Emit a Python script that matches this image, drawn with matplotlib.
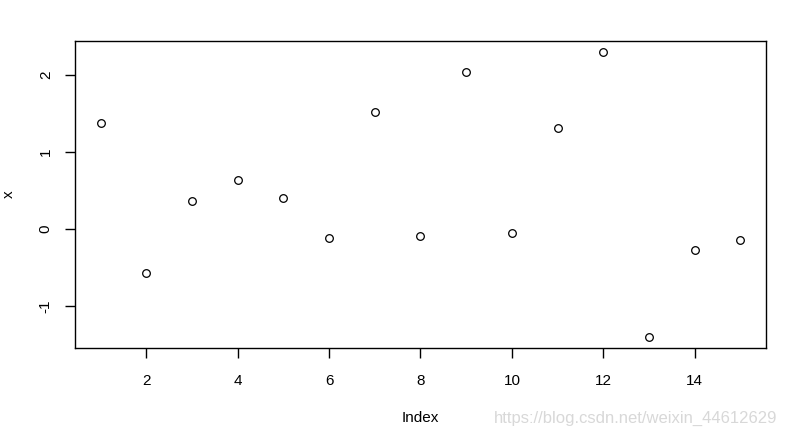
import matplotlib.pyplot as plt

index = list(range(1, 16))
x = [1.37, -0.57, 0.36, 0.63, 0.40, -0.12, 1.51, -0.10, 2.03, -0.06,
     1.31, 2.29, -1.40, -0.28, -0.14]
xticks = [2, 4, 6, 8, 10, 12, 14]
yticks = [-1, 0, 1, 2]

plt.rcParams['font.family'] = ['Liberation Sans', 'DejaVu Sans']

fig = plt.figure(figsize=(7.87, 4.41), dpi=100)
ax = fig.add_axes([75 / 787, 93 / 441, 691 / 787, 307 / 441])
ax.plot(index, x, linestyle='none', marker='o', markersize=5.5,
        markerfacecolor='none', markeredgecolor='black', markeredgewidth=0.9)
ax.set_xlim(0.44, 15.56)
ax.set_ylim(-1.548, 2.438)
ax.set_xticks(xticks)
ax.set_yticks(yticks)
ax.set_yticklabels([str(v) for v in yticks], rotation=90, va='center')
ax.tick_params(direction='out', length=7, width=1, labelsize=11, pad=12)
ax.tick_params(axis='y', pad=9)
for s in ax.spines.values():
    s.set_linewidth(1)
ax.set_xlabel('Index', fontsize=11)
ax.set_ylabel('x', fontsize=11)
ax.xaxis.set_label_coords(0.5, -0.205)
ax.yaxis.set_label_coords(-0.086, 0.5)
fig.text(0.988, 0.035, 'https://blog.csdn.net/weixin_44612629', ha='right',
         va='bottom', color='#d8d8d8', fontsize=12)
plt.savefig('out.png', dpi=100)
plt.close()
